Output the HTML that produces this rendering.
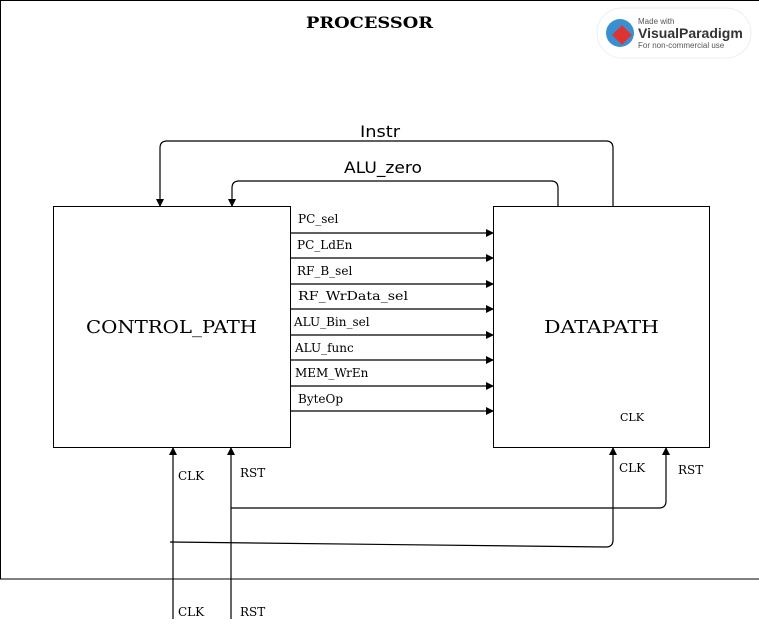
<!DOCTYPE html>
<html><head><style>body{margin:0;background:#fff}</style></head><body>
<svg width="759" height="629" xmlns="http://www.w3.org/2000/svg" style="display:block;font-family:'DejaVu Serif',serif">
<defs><marker id="a" markerWidth="8" markerHeight="8" refX="7" refY="4" orient="auto" markerUnits="userSpaceOnUse"><path d="M0,0 L8,4 L0,8 z" fill="#000"/></marker></defs>
<rect x="0.5" y="0.5" width="759" height="578.5" fill="#fff" stroke="#000"/>
<text x="306" y="28" font-size="16" font-weight="bold" textLength="127" lengthAdjust="spacingAndGlyphs">PROCESSOR</text>
<rect x="597" y="8" width="154" height="50" rx="25" fill="#fff" stroke="#eee"/>
<circle cx="620" cy="33" r="14" fill="#3a8fd0"/>
<rect x="615" y="28" width="14" height="14" fill="#d33" transform="rotate(45 622 35)"/>
<text x="638" y="24" font-size="8" fill="#555" font-family="Liberation Sans">Made with</text>
<text x="638" y="38" font-size="14" font-weight="bold" fill="#333" font-family="Liberation Sans">VisualParadigm</text>
<text x="638" y="48" font-size="8" fill="#555" font-family="Liberation Sans">For non-commercial use</text>
<rect x="53.5" y="206.5" width="237" height="241" fill="#fff" stroke="#000"/>
<rect x="493.5" y="206.5" width="216" height="241" fill="#fff" stroke="#000"/>
<text x="86" y="333" font-size="18" textLength="171" lengthAdjust="spacingAndGlyphs">CONTROL_PATH</text>
<text x="544" y="333" font-size="18" textLength="115" lengthAdjust="spacingAndGlyphs">DATAPATH</text>
<text x="620" y="421" font-size="11">CLK</text>
<g fill="none" stroke="#000" stroke-width="1.2">
<path d="M613 206 V148 Q613 141 606 141 H167 Q160 141 160 148 V206" marker-end="url(#a)"/>
<path d="M558 206 V188 Q558 181 551 181 H239 Q232 181 232 188 V206" marker-end="url(#a)"/>
<path d="M291 233H493" marker-end="url(#a)"/>
<path d="M291 258H493" marker-end="url(#a)"/>
<path d="M291 284H493" marker-end="url(#a)"/>
<path d="M291 309H493" marker-end="url(#a)"/>
<path d="M291 335H493" marker-end="url(#a)"/>
<path d="M291 360H493" marker-end="url(#a)"/>
<path d="M291 386H493" marker-end="url(#a)"/>
<path d="M291 411H493" marker-end="url(#a)"/>
<path d="M173 619V448" marker-end="url(#a)"/>
<path d="M231 619V448" marker-end="url(#a)"/>
<path d="M231 508H659 Q666 508 666 501V448" marker-end="url(#a)"/>
<path d="M170 542L606 547 Q613 547 613 540V448" marker-end="url(#a)"/>
</g>
<text x="360" y="137" font-size="16" font-family="DejaVu Sans" textLength="40" lengthAdjust="spacingAndGlyphs">Instr</text>
<text x="344" y="173" font-size="16" font-family="DejaVu Sans" textLength="78" lengthAdjust="spacingAndGlyphs">ALU_zero</text>
<g font-size="12">
<text x="298" y="223">PC_sel</text>
<text x="297" y="249">PC_LdEn</text>
<text x="297" y="275">RF_B_sel</text>
<text x="298" y="300" textLength="110" lengthAdjust="spacingAndGlyphs">RF_WrData_sel</text>
<text x="294" y="326">ALU_Bin_sel</text>
<text x="295" y="352">ALU_func</text>
<text x="295" y="377">MEM_WrEn</text>
<text x="298" y="403">ByteOp</text>
<text x="178" y="480">CLK</text>
<text x="240" y="477">RST</text>
<text x="619" y="472">CLK</text>
<text x="678" y="474">RST</text>
<text x="178" y="616">CLK</text>
<text x="240" y="616">RST</text>
</g>
</svg>
</body></html>
